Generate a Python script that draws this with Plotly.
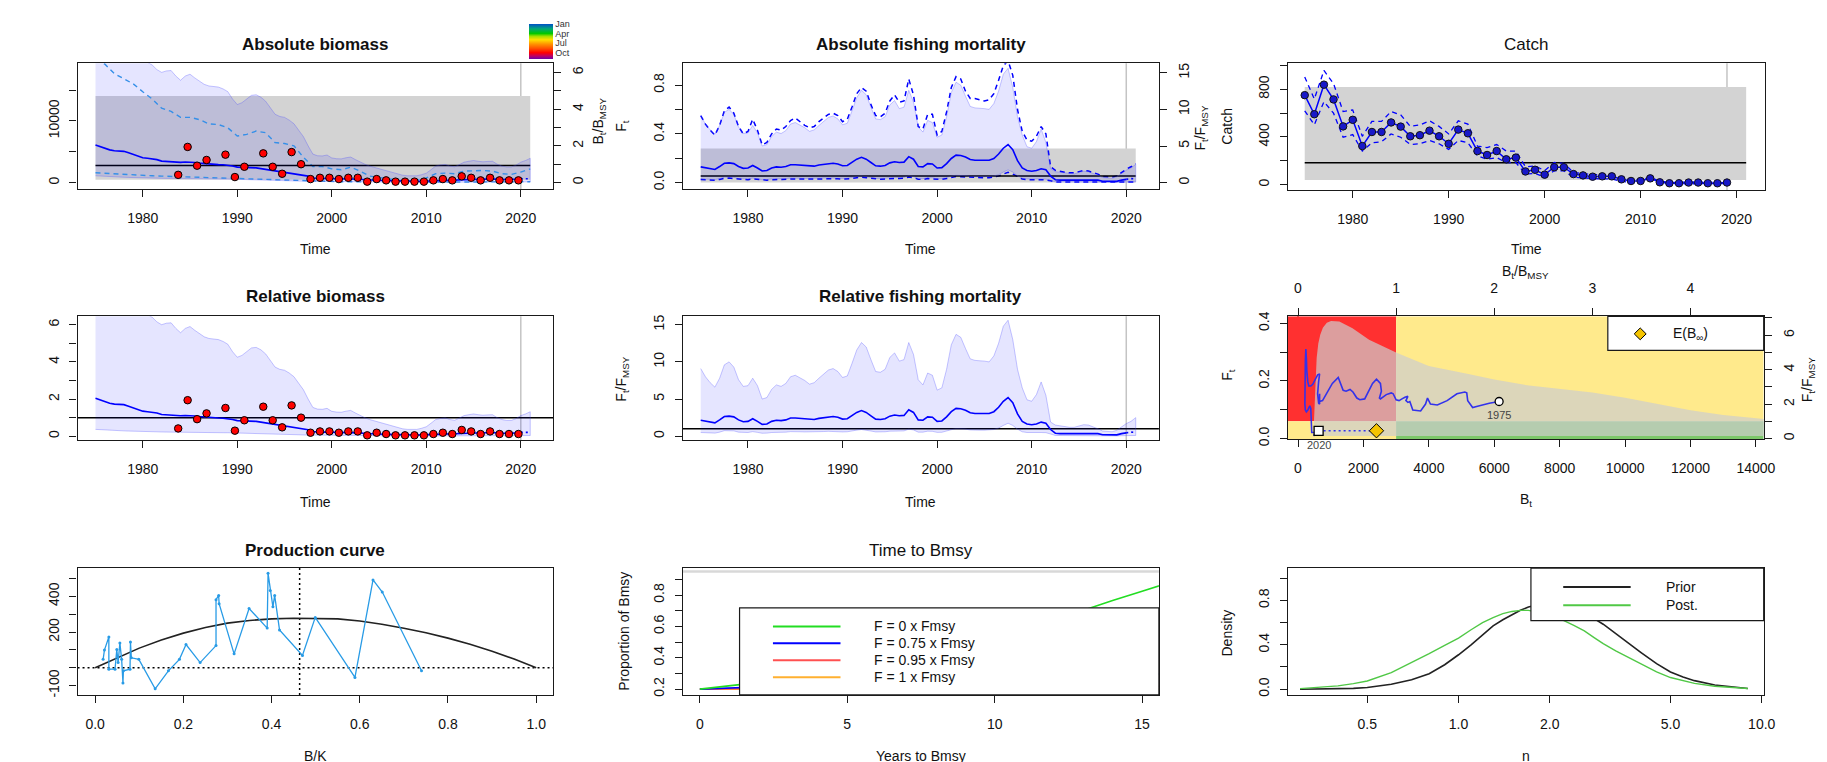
import plotly.graph_objects as go

W, H = 1827, 762
FONT = "Liberation Sans, Arial, sans-serif"
INK = "#1a1a1a"

# ======================= DATA =======================
# half-year grid of model estimates
t_est = [round(1975 + 0.5 * i, 1) for i in range(93)]
years = list(range(1975, 2022))
catch_years = list(range(1975, 2020))

# relative biomass B/Bmsy (estimate, 95% CI)
B_rel_est = [2.05, 1.95, 1.85, 1.78, 1.73, 1.72, 1.70, 1.62, 1.52, 1.42,
             1.35, 1.32, 1.30, 1.25, 1.17, 1.15, 1.14, 1.12, 1.10, 1.12,
             1.12, 1.09, 1.06, 1.03, 1.00, 0.99, 0.98, 0.97, 0.95, 0.90,
             0.84, 0.83, 0.85, 0.84, 0.80, 0.76, 0.72, 0.68, 0.63, 0.60,
             0.56, 0.53, 0.49, 0.46, 0.41, 0.35, 0.25, 0.22, 0.22, 0.22,
             0.22, 0.21, 0.20, 0.21, 0.22, 0.20, 0.18, 0.15, 0.13, 0.12,
             0.12, 0.11, 0.10, 0.09, 0.085, 0.08, 0.075, 0.07, 0.07, 0.075,
             0.085, 0.10, 0.12, 0.13, 0.14, 0.14, 0.14, 0.16, 0.18, 0.19,
             0.20, 0.20, 0.19, 0.19, 0.20, 0.19, 0.17, 0.16, 0.16, 0.18,
             0.21, 0.21, 0.21]
B_rel_hi = [9.5, 9.1, 8.8, 8.4, 8.0, 7.8, 7.5, 7.2, 7.0, 6.8,
            6.7, 6.55, 6.4, 6.15, 6.0, 6.08, 6.1, 5.8, 5.57, 5.8,
            5.9, 5.7, 5.5, 5.35, 5.26, 5.22, 5.2, 5.1, 4.95, 4.55,
            4.25, 4.35, 4.57, 4.75, 4.78, 4.65, 4.43, 4.05, 3.72, 3.6,
            3.55, 3.4, 3.2, 2.85, 2.5, 2.0, 1.55, 1.46, 1.45, 1.5,
            1.34, 1.3, 1.29, 1.35, 1.39, 1.25, 1.11, 1.0, 0.9, 0.83,
            0.78, 0.7, 0.63, 0.54, 0.46, 0.4, 0.37, 0.36, 0.37, 0.43,
            0.51, 0.7, 0.9, 0.96, 0.99, 0.9, 0.86, 0.98, 1.11, 1.16,
            1.2, 1.16, 1.13, 1.15, 1.16, 1.0, 0.9, 0.85, 0.85, 0.95,
            1.11, 1.2, 1.32]
B_rel_lo = [0.37, 0.35, 0.33, 0.32, 0.31, 0.30, 0.29, 0.28, 0.27, 0.26,
            0.25, 0.25, 0.24, 0.24, 0.23, 0.23, 0.22, 0.22, 0.22, 0.22,
            0.22, 0.21, 0.21, 0.20, 0.20, 0.20, 0.19, 0.19, 0.19, 0.18,
            0.17, 0.17, 0.17, 0.17, 0.16, 0.15, 0.14, 0.13, 0.12, 0.11,
            0.10, 0.10, 0.09, 0.08, 0.07, 0.06, 0.05, 0.045, 0.045, 0.045,
            0.045, 0.042, 0.04, 0.04, 0.04, 0.037, 0.033, 0.03, 0.027, 0.025,
            0.025, 0.023, 0.021, 0.019, 0.017, 0.016, 0.015, 0.014, 0.014, 0.015,
            0.016, 0.02, 0.024, 0.026, 0.027, 0.027, 0.027, 0.03, 0.033, 0.035,
            0.036, 0.036, 0.035, 0.035, 0.036, 0.034, 0.031, 0.03, 0.03, 0.032,
            0.035, 0.037, 0.04]

# absolute biomass 95% CI (dashed lines), yearly
B_abs_hi = [19800, 19200, 17660, 16860, 16000, 14730, 13560, 12070, 11540, 10580,
            10580, 10210, 9520, 9410, 8880, 7550, 7820, 8350, 8090, 6490,
            6330, 5960, 4100, 2600, 2600, 2230, 2070, 2500, 1860, 1060,
            800, 640, 370, 270, 370, 745, 1440, 1540, 1440, 1860,
            1970, 1970, 1860, 1440, 1330, 1700, 2230]
B_abs_lo = [1600, 1500, 1400, 1300, 1250, 1170, 1100, 1050, 1000, 950,
            900, 850, 800, 760, 700, 640, 600, 560, 500, 440,
            370, 320, 260, 160, 150, 140, 130, 130, 110, 90,
            80, 70, 60, 55, 55, 60, 80, 90, 90, 110,
            120, 120, 120, 110, 100, 110, 130]

# relative fishing mortality F/Fmsy (estimate, 95% CI)
F_rel_est = [2.15, 2.05, 1.9, 1.8, 2.2, 2.65, 2.7, 2.6, 2.2, 1.95,
             2.0, 2.35, 2.0, 1.6, 1.65, 2.0, 2.15, 2.1, 2.2, 2.45,
             2.45, 2.4, 2.3, 2.2, 2.25, 2.4, 2.5, 2.6, 2.65, 2.55,
             2.3, 2.35, 2.75, 3.2, 3.45, 3.2, 2.75, 2.3, 2.25, 2.35,
             2.7, 2.85, 2.75, 2.8, 3.55, 3.2, 2.2, 2.15, 2.6, 2.55,
             2.0, 2.05, 2.6, 3.3, 3.75, 3.7, 3.5, 3.15, 3.05, 3.05,
             3.05, 3.05, 3.3, 3.9, 4.7, 5.2, 4.5, 3.0, 2.0, 1.65,
             1.55, 1.65, 1.9, 1.75, 0.9, 0.4, 0.35, 0.35, 0.35, 0.35,
             0.35, 0.35, 0.35, 0.35, 0.35, 0.2, 0.18, 0.18, 0.18, 0.35,
             0.45, 0.55, 0.5]
F_rel_hi = [9.1, 8.0, 7.2, 6.6, 7.8, 9.6, 10.0, 9.3, 7.6, 6.7,
            6.8, 7.8, 6.8, 5.0, 5.2, 6.3, 6.9, 6.7, 7.1, 8.0,
            8.2, 7.9, 7.5, 7.0, 7.2, 7.8, 8.4, 8.9, 9.1, 8.7,
            7.9, 8.1, 9.8, 11.6, 12.6, 12.0, 10.3, 8.7, 8.6, 9.0,
            10.6, 11.2, 10.1, 10.3, 12.6, 11.0, 7.6, 6.9, 8.5, 8.2,
            6.2, 6.5, 9.0, 12.3, 13.7, 13.3, 11.8, 10.4, 10.2, 10.2,
            10.1, 10.0, 10.8, 12.5, 14.8, 15.6, 13.0, 9.0, 6.5, 4.9,
            4.7, 5.6, 7.3, 5.5, 1.9, 1.5, 1.4, 1.3, 1.2, 1.2,
            1.4, 1.55, 1.5, 1.3, 1.0, 0.7, 0.6, 0.6, 0.8, 1.3,
            1.7, 2.0, 2.5]
F_rel_lo = [0.5, 0.48, 0.45, 0.42, 0.55, 0.75, 0.78, 0.72, 0.55, 0.5,
            0.5, 0.62, 0.52, 0.4, 0.42, 0.5, 0.55, 0.55, 0.55, 0.62,
            0.62, 0.6, 0.58, 0.55, 0.56, 0.6, 0.63, 0.66, 0.67, 0.64,
            0.58, 0.6, 0.7, 0.82, 0.9, 0.82, 0.7, 0.58, 0.57, 0.6,
            0.68, 0.72, 0.7, 0.72, 0.95, 0.85, 0.55, 0.55, 0.68, 0.66,
            0.52, 0.53, 0.68, 0.88, 1.0, 1.0, 0.95, 0.85, 0.82, 0.82,
            0.82, 0.82, 0.9, 1.1, 1.45, 1.75, 1.45, 0.95, 0.6, 0.5,
            0.48, 0.5, 0.5, 0.48, 0.3, 0.1, 0.08, 0.08, 0.08, 0.08,
            0.08, 0.08, 0.08, 0.08, 0.08, 0.04, 0.04, 0.04, 0.04, 0.07,
            0.1, 0.12, 0.1]

# absolute fishing mortality 95% CI (dashed lines)
F_abs_hi = [0.55, 0.48, 0.43, 0.39, 0.47, 0.59, 0.62, 0.57, 0.46, 0.40,
            0.42, 0.52, 0.43, 0.31, 0.33, 0.40, 0.44, 0.43, 0.46, 0.51,
            0.53, 0.50, 0.47, 0.45, 0.46, 0.50, 0.53, 0.56, 0.57, 0.55,
            0.50, 0.52, 0.62, 0.73, 0.78, 0.75, 0.64, 0.55, 0.54, 0.57,
            0.67, 0.72, 0.66, 0.67, 0.85, 0.72, 0.46, 0.44, 0.56, 0.56,
            0.39, 0.42, 0.58, 0.78, 0.87, 0.85, 0.75, 0.69, 0.69, 0.68,
            0.67, 0.68, 0.73, 0.84, 0.96, 1.00, 0.88, 0.60, 0.42, 0.35,
            0.34, 0.38, 0.46, 0.40, 0.13, 0.10, 0.09, 0.085, 0.08, 0.08,
            0.09, 0.10, 0.095, 0.085, 0.07, 0.05, 0.045, 0.045, 0.055, 0.085,
            0.11, 0.13, 0.155]
F_abs_lo = [0.025, 0.024, 0.022, 0.02, 0.026, 0.035, 0.037, 0.034, 0.027, 0.024,
            0.024, 0.03, 0.025, 0.019, 0.02, 0.024, 0.026, 0.026, 0.027, 0.03,
            0.03, 0.029, 0.028, 0.027, 0.027, 0.029, 0.031, 0.032, 0.033, 0.031,
            0.028, 0.029, 0.034, 0.04, 0.044, 0.04, 0.034, 0.028, 0.028, 0.029,
            0.033, 0.035, 0.034, 0.035, 0.046, 0.041, 0.027, 0.026, 0.033, 0.032,
            0.025, 0.026, 0.033, 0.043, 0.049, 0.048, 0.046, 0.041, 0.04, 0.04,
            0.04, 0.04, 0.044, 0.053, 0.07, 0.085, 0.07, 0.046, 0.029, 0.024,
            0.023, 0.024, 0.024, 0.023, 0.015, 0.005, 0.004, 0.004, 0.004, 0.004,
            0.004, 0.004, 0.004, 0.004, 0.004, 0.002, 0.002, 0.002, 0.002, 0.003,
            0.005, 0.006, 0.005]

# survey index (scaled to B/Bmsy), sampled in October
obs_year = [1983, 1984, 1985, 1986, 1988, 1989, 1990, 1992, 1993, 1994,
            1995, 1996, 1997, 1998, 1999, 2000, 2001, 2002, 2003, 2004,
            2005, 2006, 2007, 2008, 2009, 2010, 2011, 2012, 2013, 2014,
            2015, 2016, 2017, 2018, 2019]
obs_season = 0.75
obs_month = 10
obs_rel = [0.42, 1.94, 0.92, 1.23, 1.52, 0.30, 0.86, 1.59, 0.86, 0.48,
           1.66, 1.00, 0.19, 0.26, 0.26, 0.19, 0.26, 0.26, 0.05, 0.19,
           0.12, 0.05, 0.05, 0.05, 0.05, 0.12, 0.19, 0.12, 0.34, 0.26,
           0.12, 0.26, 0.12, 0.12, 0.12]

# catch
catch_obs = [750, 590, 838, 714, 488, 543, 323, 441, 441, 521,
             486, 405, 414, 452, 405, 342, 461, 430, 281, 248,
             281, 212, 226, 110, 124, 83, 146, 146, 88, 77,
             66, 69, 69, 44, 30, 30, 52, 19, 11, 11,
             17, 17, 11, 11, 17]
catch_hi = [902, 717, 957, 847, 612, 626, 405, 530, 530, 612,
            585, 488, 500, 535, 488, 425, 535, 507, 323, 310,
            336, 281, 281, 149, 157, 116, 185, 177, 102, 94,
            83, 83, 83, 55, 41, 41, 61, 28, 19, 19,
            22, 22, 19, 19, 22]
catch_lo = [618, 502, 695, 599, 397, 419, 281, 350, 359, 425,
            397, 336, 342, 370, 342, 295, 370, 350, 240, 212,
            226, 185, 185, 88, 94, 61, 116, 116, 61, 55,
            47, 47, 47, 28, 17, 17, 33, 11, 6, 6,
            8, 8, 6, 6, 8]
catch_pred_next = 20

# reference points
Bmsy_abs = 2770
Bmsy_ci = (480, 14040)
Fmsy_abs = 0.054
Fmsy_ci = (0.0, 0.28)
MSY = 182
MSY_ci = (39, 819)
kobe_Bmsy = 2999
kobe_Fmsy = 0.0598
E_Binf_rel = 0.80
BmsyK = 0.4636
t_last_index = 2020
t_last_catch = 2019

# kobe: gray region
kobe_up_B = [470, 500, 530, 570, 620, 680, 760, 880, 1010, 1263, 1666, 2173,
             3014, 3995, 5210, 6000, 7000, 8000, 9000, 10000, 11000, 12000, 13000, 14400]
kobe_up_F = [0.012, 0.10, 0.20, 0.28, 0.33, 0.36, 0.385, 0.402, 0.408, 0.406, 0.383, 0.343,
             0.298, 0.252, 0.224, 0.205, 0.185, 0.172, 0.16, 0.142, 0.12, 0.098, 0.082, 0.066]
kobe_lo_B = [14400, 470]
kobe_lo_F = [0.009, 0.009]

# production curve
pc_bk = [0.00, 0.05, 0.10, 0.15, 0.20, 0.25, 0.30, 0.35, 0.40, 0.45, 0.50,
         0.55, 0.60, 0.65, 0.70, 0.75, 0.80, 0.85, 0.90, 0.95, 1.00]
pc_p = [0, 55, 110, 155, 194, 226, 250, 265, 274, 277, 277,
        274, 262, 244, 221, 196, 166, 132, 93, 49, 0]
prod_bk = [0.740, 0.651, 0.630, 0.589, 0.499, 0.470, 0.418, 0.407, 0.403, 0.397,
           0.392, 0.390, 0.349, 0.315, 0.281, 0.280, 0.274, 0.274, 0.238, 0.206,
           0.191, 0.166, 0.136, 0.099, 0.082, 0.080, 0.079, 0.064, 0.063, 0.060,
           0.056, 0.052, 0.049, 0.045, 0.031, 0.031, 0.021, 0.018]
prod_p = [-17, 424, 492, -54, 282, 69, 212, 405, 341, 433,
          529, 222, 332, 78, 359, 405, 381, 124, 29, 130,
          47, -17, -118, 47, 56, 144, -8, -17, -85, 47,
          139, 29, 102, -8, -8, 172, 99, 47]

# time to Bmsy
ttb_t = [0, 0.25, 0.5, 0.75, 1.0, 1.25, 1.5, 2, 3, 4, 5, 6, 7, 8, 9, 10, 11, 12, 13, 14, 15, 15.6]
ttb_f0 = [0.2, 0.205, 0.212, 0.218, 0.222, 0.226, 0.232, 0.245, 0.27, 0.3, 0.33, 0.365,
          0.4, 0.44, 0.48, 0.53, 0.58, 0.64, 0.705, 0.765, 0.825, 0.86]
ttb_f075 = [0.2, 0.202, 0.205, 0.207, 0.209, 0.211, 0.213, 0.216, 0.222, 0.228, 0.234, 0.24,
            0.246, 0.252, 0.258, 0.264, 0.27, 0.276, 0.282, 0.288, 0.294, 0.297]
ttb_f095 = [0.2, 0.2, 0.201, 0.202, 0.203, 0.204, 0.204, 0.205, 0.206, 0.207, 0.208, 0.209,
            0.21, 0.211, 0.212, 0.213, 0.214, 0.215, 0.216, 0.217, 0.218, 0.218]
ttb_f1 = [0.2, 0.2, 0.2, 0.2, 0.2, 0.2, 0.2, 0.2, 0.2, 0.2, 0.2, 0.2,
          0.2, 0.2, 0.2, 0.2, 0.2, 0.2, 0.2, 0.2, 0.2, 0.2]
ttb_labels = ["F = 0 x Fmsy", "F = 0.75 x Fmsy", "F = 0.95 x Fmsy", "F = 1 x Fmsy"]
ttb_colors = ["#22dd22", "#0000ff", "#ff5050", "#ffb030"]
ttb_thresh = 0.95

# prior / posterior of n
n_grid = [0.3, 0.35, 0.4, 0.45, 0.5, 0.6, 0.7, 0.8, 0.9, 1.0, 1.1, 1.2, 1.3, 1.4, 1.5, 1.6,
          1.7, 1.8, 1.9, 2.0, 2.2, 2.4, 2.6, 2.8, 3.0, 3.3, 3.6, 4.0, 4.5, 5.0, 5.5, 6.0,
          7.0, 8.0, 9.0]
n_prior = [0.0, 0.001, 0.003, 0.007, 0.015, 0.045, 0.085, 0.14, 0.22, 0.31, 0.40, 0.49,
           0.57, 0.625, 0.67, 0.71, 0.74, 0.755, 0.76, 0.76, 0.745, 0.715, 0.68, 0.635,
           0.585, 0.5, 0.42, 0.33, 0.23, 0.155, 0.11, 0.077, 0.038, 0.018, 0.006]
n_post = [0.005, 0.015, 0.03, 0.05, 0.074, 0.15, 0.24, 0.32, 0.395, 0.46, 0.535, 0.6,
          0.645, 0.68, 0.7, 0.71, 0.71, 0.7, 0.685, 0.67, 0.625, 0.575, 0.525, 0.465,
          0.41, 0.345, 0.29, 0.222, 0.155, 0.105, 0.075, 0.052, 0.027, 0.013, 0.006]

time_ticks = [1980, 1990, 2000, 2010, 2020]
month_ticks = [1, 4, 7, 10]
month_labels = ["Jan", "Apr", "Jul", "Oct"]

# ======================= HELPERS =======================
def dx(px):
    return px / W


def dy(py):
    return 1 - py / H


BOX = {
    1: (70, 549, 51, 179), 2: (679.2, 1158.5, 51, 179), 3: (1288.4, 1768.5, 51, 180),
    4: (70, 549, 308, 434), 5: (679.2, 1158.5, 308, 434), 6: (1288.4, 1767.3, 308, 433),
    7: (70, 549, 564, 693), 8: (679.2, 1158.5, 564, 693), 9: (1288.4, 1767.3, 564, 693),
}


def cx(n):
    return (BOX[n][0] + BOX[n][1]) / 2


def axis(rng, tv, tt, vertical=False, **kw):
    lab_v = [v for v, t in zip(tv, tt) if t != ""]
    lab_t = [t for t in tt if t != ""]
    minor_v = [v for v, t in zip(tv, tt) if t == ""]
    d = dict(range=rng, tickmode="array", tickvals=lab_v, ticktext=lab_t, showline=True,
             linecolor=INK, linewidth=1.2, mirror=True, ticks="outside", ticklen=7,
             tickwidth=1.1, tickcolor=INK, showgrid=False, zeroline=False,
             tickfont=dict(family=FONT, size=14, color="#111"), fixedrange=True,
             ticklabelstandoff=9)
    if minor_v:
        d["minor"] = dict(tickmode="array", tickvals=minor_v, ticks="outside", ticklen=7,
                          tickwidth=1.1, tickcolor=INK, showgrid=False)
    if vertical:
        d["tickangle"] = -90
        d["ticklabelstandoff"] = 5
    d.update(kw)
    return d


def line(x, y, xa, ya, color, width=1.5, dash=None, mode="lines", **kw):
    return go.Scatter(x=x, y=y, xaxis=xa, yaxis=ya, mode=mode,
                      line=dict(color=color, width=width, dash=dash),
                      hoverinfo="skip", **kw)


def band(t, lo, hi, xa, ya):
    return go.Scatter(x=list(t) + list(t)[::-1], y=list(hi) + list(lo)[::-1],
                      xaxis=xa, yaxis=ya, mode="lines", fill="toself",
                      fillcolor="rgba(0,0,255,0.10)",
                      line=dict(color="rgba(70,70,255,0.30)", width=1), hoverinfo="skip")


def ann(text, x, y, size=14, bold=False, angle=0, color="#111", xanchor="center"):
    return dict(text=f"<b>{text}</b>" if bold else text, x=dx(x), y=dy(y), xref="paper",
                yref="paper", showarrow=False, textangle=angle, xanchor=xanchor,
                yanchor="middle", font=dict(family=FONT, size=size, color=color))


def rect_px(x0, x1, y0, y1):
    return dict(type="rect", xref="paper", yref="paper", x0=dx(x0), x1=dx(x1),
                y0=dy(y1), y1=dy(y0), fillcolor="white", line=dict(color=INK, width=1.2),
                layer="above")


def seg_px(x0, x1, y, color, width=2):
    return dict(type="line", xref="paper", yref="paper", x0=dx(x0), x1=dx(x1), y0=dy(y),
                y1=dy(y), line=dict(color=color, width=width), layer="above")


DASH = "5px,4px"
DOT = "2px,3px"
LB = "rgb(60,160,230)"
MONTH_CS = [[0.0, "#6a00a8"], [0.09, "#c00060"], [0.18, "#ff0000"], [0.30, "#ff5000"],
            [0.42, "#ff9000"], [0.55, "#ffe000"], [0.65, "#a0e000"], [0.73, "#00c800"],
            [0.86, "#00a878"], [1.0, "#0050c8"]]

fig = go.Figure()
shapes = []
anns = []

i2020 = t_est.index(2020.0)
t_solid, t_dot = t_est[:i2020 + 1], t_est[i2020:]
obs_time = [y + obs_season for y in obs_year]
t0, t1 = t_est[0], t_est[-1]

# ---------------- Panel 1: Absolute biomass ----------------
shapes.append(dict(type="rect", xref="x", yref="y", x0=t0, x1=t1, y0=Bmsy_ci[0], y1=Bmsy_ci[1],
                   fillcolor="#d3d3d3", line=dict(width=0), layer="below"))
shapes.append(dict(type="line", xref="x", yref="y domain", x0=t_last_index, x1=t_last_index,
                   y0=0, y1=1, line=dict(color="#c4c4c4", width=1.5), layer="below"))
fig.add_trace(band(t_est, B_rel_lo, B_rel_hi, "x", "y10"))
fig.add_trace(line(years, B_abs_hi, "x", "y", LB, 1.4, DASH))
fig.add_trace(line(years, B_abs_lo, "x", "y", LB, 1.4, DASH))
fig.add_trace(line([t0, t1], [Bmsy_abs, Bmsy_abs], "x", "y", "black", 1.5))
fig.add_trace(line(t_solid, B_rel_est[:i2020 + 1], "x", "y10", "blue", 1.6))
fig.add_trace(line(t_dot, B_rel_est[i2020:], "x", "y10", "blue", 1.6, DOT))
fig.add_trace(go.Scatter(
    x=obs_time, y=obs_rel, xaxis="x", yaxis="y10", mode="markers", hoverinfo="skip",
    marker=dict(size=7.5, color=[-obs_month] * len(obs_rel), colorscale=MONTH_CS, cmin=-12, cmax=-1,
                line=dict(color="black", width=1), showscale=True,
                colorbar=dict(x=dx(524), xanchor="left", y=dy(29.2), yanchor="middle",
                              len=35, lenmode="pixels", thickness=24, thicknessmode="pixels",
                              xpad=0, ypad=0, outlinewidth=0, ticks="",
                              tickvals=[-m for m in month_ticks], ticktext=month_labels,
                              tickfont=dict(family=FONT, size=9, color="#333")))))

# ---------------- Panel 2: Absolute fishing mortality ----------------
shapes.append(dict(type="rect", xref="x2", yref="y2", x0=t0, x1=t1, y0=Fmsy_ci[0], y1=Fmsy_ci[1],
                   fillcolor="#d3d3d3", line=dict(width=0), layer="below"))
shapes.append(dict(type="line", xref="x2", yref="y2 domain", x0=t_last_index, x1=t_last_index,
                   y0=0, y1=1, line=dict(color="#c4c4c4", width=1.5), layer="below"))
fig.add_trace(band(t_est, F_rel_lo, F_rel_hi, "x2", "y11"))
fig.add_trace(line(t_est, F_abs_hi, "x2", "y2", "blue", 1.5, DASH))
fig.add_trace(line(t_est, F_abs_lo, "x2", "y2", "blue", 1.5, DASH))
fig.add_trace(line([t0, t1], [Fmsy_abs, Fmsy_abs], "x2", "y2", "black", 1.5))
fig.add_trace(line(t_solid, F_rel_est[:i2020 + 1], "x2", "y11", "blue", 1.6))
fig.add_trace(line(t_dot, F_rel_est[i2020:], "x2", "y11", "blue", 1.6, DOT))

# ---------------- Panel 3: Catch ----------------
shapes.append(dict(type="rect", xref="x3", yref="y3", x0=t0, x1=t1, y0=MSY_ci[0], y1=MSY_ci[1],
                   fillcolor="#d3d3d3", line=dict(width=0), layer="below"))
shapes.append(dict(type="line", xref="x3", yref="y3 domain", x0=t_last_catch, x1=t_last_catch,
                   y0=0, y1=1, line=dict(color="#c4c4c4", width=1.5), layer="below"))
fig.add_trace(line([t0, t1], [MSY, MSY], "x3", "y3", "black", 1.5))
fig.add_trace(line(catch_years, catch_hi, "x3", "y3", "blue", 1.3, DASH))
fig.add_trace(line(catch_years, catch_lo, "x3", "y3", "blue", 1.3, DASH))
fig.add_trace(line([catch_years[-1], catch_years[-1] + 0.5], [catch_obs[-1], catch_pred_next],
                   "x3", "y3", "blue", 1.5, DOT))
fig.add_trace(go.Scatter(x=catch_years, y=catch_obs, xaxis="x3", yaxis="y3", mode="lines+markers",
                         line=dict(color="blue", width=1.5), hoverinfo="skip",
                         marker=dict(size=7.5, color="#1818c8", line=dict(color="#111", width=1))))

# ---------------- Panel 4: Relative biomass ----------------
shapes.append(dict(type="line", xref="x4", yref="y4 domain", x0=t_last_index, x1=t_last_index,
                   y0=0, y1=1, line=dict(color="#c4c4c4", width=1.5), layer="below"))
shapes.append(dict(type="line", xref="x4 domain", yref="y4", x0=0, x1=1, y0=1, y1=1,
                   line=dict(color="black", width=1.5), layer="below"))
fig.add_trace(band(t_est, B_rel_lo, B_rel_hi, "x4", "y4"))
fig.add_trace(line(t_solid, B_rel_est[:i2020 + 1], "x4", "y4", "blue", 1.6))
fig.add_trace(line(t_dot, B_rel_est[i2020:], "x4", "y4", "blue", 1.6, DOT))
fig.add_trace(go.Scatter(
    x=obs_time, y=obs_rel, xaxis="x4", yaxis="y4", mode="markers", hoverinfo="skip",
    marker=dict(size=7.5, color=[-obs_month] * len(obs_rel), colorscale=MONTH_CS, cmin=-12, cmax=-1,
                line=dict(color="black", width=1), showscale=False)))

# ---------------- Panel 5: Relative fishing mortality ----------------
shapes.append(dict(type="line", xref="x5", yref="y5 domain", x0=t_last_index, x1=t_last_index,
                   y0=0, y1=1, line=dict(color="#c4c4c4", width=1.5), layer="below"))
shapes.append(dict(type="line", xref="x5 domain", yref="y5", x0=0, x1=1, y0=1, y1=1,
                   line=dict(color="black", width=1.5), layer="below"))
fig.add_trace(band(t_est, F_rel_lo, F_rel_hi, "x5", "y5"))
fig.add_trace(line(t_solid, F_rel_est[:i2020 + 1], "x5", "y5", "blue", 1.6))
fig.add_trace(line(t_dot, F_rel_est[i2020:], "x5", "y5", "blue", 1.6, DOT))

# ---------------- Panel 6: Kobe ----------------
kx = (-308, 14237)
ky = (-0.0023, 0.425)
for (xa, xb, ya, yb, col) in [
    (kx[0], kobe_Bmsy, kobe_Fmsy, ky[1], "#ff3030"),
    (kobe_Bmsy, kx[1], kobe_Fmsy, ky[1], "#ffea8c"),
    (kx[0], kobe_Bmsy, ky[0], kobe_Fmsy, "#ffea8c"),
    (kobe_Bmsy, kx[1], ky[0], kobe_Fmsy, "#7cc86a"),
]:
    shapes.append(dict(type="rect", xref="x6", yref="y6", x0=xa, x1=xb, y0=ya, y1=yb,
                       fillcolor=col, line=dict(width=0), layer="below"))
shapes.append(dict(type="line", xref="x6", yref="y6 domain", x0=0, x1=0, y0=0, y1=1,
                   line=dict(color="#8b0000", width=1.5, dash="6px,4px"), layer="below"))
fig.add_trace(go.Scatter(x=kobe_up_B + kobe_lo_B, y=kobe_up_F + kobe_lo_F, xaxis="x6", yaxis="y6",
                         mode="lines", fill="toself", fillcolor="rgba(205,205,205,0.70)",
                         line=dict(width=0), hoverinfo="skip"))
fig.add_trace(line(B_rel_est[:i2020 + 1], F_rel_est[:i2020 + 1], "x12", "y12", "rgb(50,50,235)", 1.6))
fig.add_trace(line([B_rel_est[i2020], E_Binf_rel], [F_rel_est[i2020], F_rel_est[i2020]],
                   "x12", "y12", "rgb(50,50,235)", 1.6, DOT))
fig.add_trace(go.Scatter(x=[B_rel_est[0]], y=[F_rel_est[0]], xaxis="x12", yaxis="y12", mode="markers",
                         hoverinfo="skip", marker=dict(symbol="circle", size=8, color="white",
                                                       line=dict(color="black", width=1.3))))
fig.add_trace(go.Scatter(x=[B_rel_est[i2020]], y=[F_rel_est[i2020]], xaxis="x12", yaxis="y12",
                         mode="markers", hoverinfo="skip",
                         marker=dict(symbol="square", size=9, color="white",
                                     line=dict(color="black", width=1.3))))
fig.add_trace(go.Scatter(x=[E_Binf_rel], y=[F_rel_est[i2020]], xaxis="x12", yaxis="y12", mode="markers",
                         hoverinfo="skip", marker=dict(symbol="diamond", size=11, color="#f5c400",
                                                       line=dict(color="black", width=1))))
for idx, lab in [(0, "1975"), (i2020, "2020")]:
    anns.append(dict(text=lab, x=B_rel_est[idx], y=F_rel_est[idx], xref="x12", yref="y12",
                     showarrow=False, yshift=-14, font=dict(family=FONT, size=11, color="#444")))

# ---------------- Panel 7: Production curve ----------------
shapes.append(dict(type="line", xref="x7 domain", yref="y7", x0=0, x1=1, y0=0, y1=0,
                   line=dict(color="black", width=1.5, dash=DOT), layer="below"))
shapes.append(dict(type="line", xref="x7", yref="y7 domain", x0=BmsyK, x1=BmsyK, y0=0, y1=1,
                   line=dict(color="black", width=1.5, dash=DOT), layer="below"))
fig.add_trace(line(pc_bk, pc_p, "x7", "y7", "#222", 1.6))
fig.add_trace(go.Scatter(x=prod_bk, y=prod_p, xaxis="x7", yaxis="y7", mode="lines+markers",
                         line=dict(color="rgb(40,155,230)", width=1.3), hoverinfo="skip",
                         marker=dict(size=3, color="rgb(40,155,230)")))

# ---------------- Panel 8: Time to Bmsy ----------------
shapes.append(dict(type="line", xref="x8 domain", yref="y8", x0=0, x1=1, y0=ttb_thresh, y1=ttb_thresh,
                   line=dict(color="#d8d8d8", width=2.5), layer="below"))
for ys, col in zip([ttb_f1, ttb_f095, ttb_f075, ttb_f0], ttb_colors[::-1]):
    fig.add_trace(line(ttb_t, ys, "x8", "y8", col, 1.6))

# ---------------- Panel 9: prior/posterior ----------------
fig.add_trace(line(n_grid, n_prior, "x9", "y9", "#222", 1.6))
fig.add_trace(line(n_grid, n_post, "x9", "y9", "rgb(80,200,70)", 1.4))

# ======================= LAYOUT =======================
lay = dict(width=W, height=H, margin=dict(l=0, r=0, t=0, b=0), paper_bgcolor="white",
           plot_bgcolor="white", showlegend=False, font=dict(family=FONT, size=14, color="#111"))

tt_time = [str(v) for v in time_ticks]
XR_T = [1973.1, 2023.45]


def dom(n):
    x0, x1, y0, y1 = BOX[n]
    return [dx(x0), dx(x1)], [dy(y1), dy(y0)]


def key(p, n):
    return p if n == 1 else f"{p}{n}"


specs = {
    1: (XR_T, time_ticks, tt_time, [-1070, 19360], [0, 5000, 10000, 15000], ["0", "", "10000", ""]),
    2: (XR_T, time_ticks, tt_time, [-0.054, 0.98], [0, 0.2, 0.4, 0.6, 0.8], ["0.0", "", "0.4", "", "0.8"]),
    3: ([1973.25, 2022.95], time_ticks, tt_time, [-47, 1018], [0, 200, 400, 600, 800, 1000],
        ["0", "", "400", "", "800", ""]),
    4: (XR_T, time_ticks, tt_time, [-0.21, 6.46], [0, 1, 2, 3, 4, 5, 6], ["0", "", "2", "", "4", "", "6"]),
    5: (XR_T, time_ticks, tt_time, [-0.53, 16.15], [0, 5, 10, 15], ["0", "5", "10", "15"]),
    6: (list(kx), list(range(0, 14001, 2000)), [str(v) for v in range(0, 14001, 2000)], list(ky),
        [0, 0.1, 0.2, 0.3, 0.4], ["0.0", "", "0.2", "", "0.4"]),
    7: ([-0.04, 1.039], [0, 0.2, 0.4, 0.6, 0.8, 1.0], ["0.0", "0.2", "0.4", "0.6", "0.8", "1.0"],
        [-153, 558], [-100, 0, 100, 200, 300, 400, 500], ["-100", "", "", "200", "", "400", ""]),
    8: ([-0.58, 15.57], [0, 5, 10, 15], ["0", "5", "10", "15"], [0.162, 0.972],
        [0.2, 0.3, 0.4, 0.5, 0.6, 0.7, 0.8, 0.9], ["0.2", "", "0.4", "", "0.6", "", "0.8", ""]),
    9: ([-0.5627, 1.0065], [0.5, 1, 2, 5, 10], ["0.5", "1.0", "2.0", "5.0", "10.0"], [-0.053, 1.09],
        [0, 0.2, 0.4, 0.6, 0.8, 1.0], ["0.0", "", "0.4", "", "0.8", ""]),
}
for n, (xr, xtv, xtt, yr, ytv, ytt) in specs.items():
    xd, yd = dom(n)
    xa = axis(xr, xtv, xtt, domain=xd, anchor=key("y", n))
    if n == 9:
        xa["type"] = "log"
    lay[key("xaxis", n)] = xa
    lay[key("yaxis", n)] = axis(yr, ytv, ytt, vertical=True, domain=yd, anchor=key("x", n))

lay["yaxis10"] = axis([-0.36, 6.5], [0, 1, 2, 3, 4, 5, 6], ["0", "", "2", "", "4", "", "6"], vertical=True,
                      overlaying="y", side="right", anchor="x", mirror=False)
lay["yaxis11"] = axis([-0.89, 16.3], [0, 5, 10, 15], ["0", "5", "10", "15"], vertical=True,
                      overlaying="y2", side="right", anchor="x2", mirror=False)
lay["yaxis12"] = axis([-0.038, 7.105], list(range(8)), ["0", "", "2", "", "4", "", "6", ""], vertical=True,
                      overlaying="y6", side="right", anchor="x6", mirror=False)
lay["xaxis12"] = axis([-0.1027, 4.747], [0, 1, 2, 3, 4], ["0", "1", "2", "3", "4"],
                      overlaying="x6", side="top", anchor="y6", mirror=False)

# legends (drawn as boxes above the data, like R's legend())
shapes.append(rect_px(736.4, 1158.5, 604.3, 692.7))
for lab, col, yy in zip(ttb_labels, ttb_colors, [623.3, 640.3, 657.5, 675]):
    shapes.append(seg_px(770, 838, yy, col))
    anns.append(ann(lab, 870, yy, xanchor="left"))
shapes.append(rect_px(1533, 1767.3, 564, 617.3))
shapes.append(seg_px(1565.5, 1633.4, 583.3, "#222"))
shapes.append(seg_px(1565.5, 1633.4, 601.7, "rgb(80,200,70)"))
anns.append(ann("Prior", 1666.6, 583.3, xanchor="left"))
anns.append(ann("Post.", 1666.6, 601.7, xanchor="left"))
shapes.append(rect_px(1610.4, 1767.3, 308.3, 342.7))
dcx, dcy, r = 1643, 326, 6
shapes.append(dict(type="path", xref="paper", yref="paper", layer="above",
                   path=f"M {dx(dcx)},{dy(dcy - r)} L {dx(dcx + r)},{dy(dcy)} L {dx(dcx)},{dy(dcy + r)} "
                        f"L {dx(dcx - r)},{dy(dcy)} Z",
                   fillcolor="#f5c400", line=dict(color="black", width=1)))
anns.append(ann("E(B<sub>∞</sub>)", 1694, 326))

# titles
anns += [
    ann("Absolute biomass", cx(1), 32.3, 17, True),
    ann("Absolute fishing mortality", cx(2), 32.3, 17, True),
    ann("Catch", cx(3), 32.3, 17),
    ann("Relative biomass", cx(4), 288.3, 17, True),
    ann("Relative fishing mortality", cx(5), 288.3, 17, True),
    ann("Production curve", cx(7), 546, 17, True),
    ann("Time to Bmsy", cx(8), 546, 17),
]
# axis titles
anns += [
    ann("Time", cx(1), 240), ann("Time", cx(2), 240), ann("Time", cx(3), 240),
    ann("Time", cx(4), 496.7), ann("Time", cx(5), 496.7), ann("B<sub>t</sub>", cx(6), 495),
    ann("B/K", cx(7), 755), ann("Years to Bmsy", cx(8), 755), ann("n", cx(9), 755),
    ann("B<sub>t</sub>/B<sub>MSY</sub>", cx(6), 263),
    ann("B<sub>t</sub>/B<sub>MSY</sub>", 595.2, 110, angle=-90),
    ann("F<sub>t</sub>", 618.6, 115, angle=-90),
    ann("F<sub>t</sub>/F<sub>MSY</sub>", 1201.3, 117, angle=-90),
    ann("Catch", 1227.5, 115, angle=-90),
    ann("F<sub>t</sub>/F<sub>MSY</sub>", 618.6, 372, angle=-90),
    ann("F<sub>t</sub>", 1228.7, 368, angle=-90),
    ann("F<sub>t</sub>/F<sub>MSY</sub>", 1812, 373, angle=-90),
    ann("Proportion of Bmsy", 619.7, 628, angle=-90),
    ann("Density", 1227.5, 630, angle=-90),
]

lay["shapes"] = shapes
lay["annotations"] = anns
fig.update_layout(**lay)
fig.write_html("out.html")
